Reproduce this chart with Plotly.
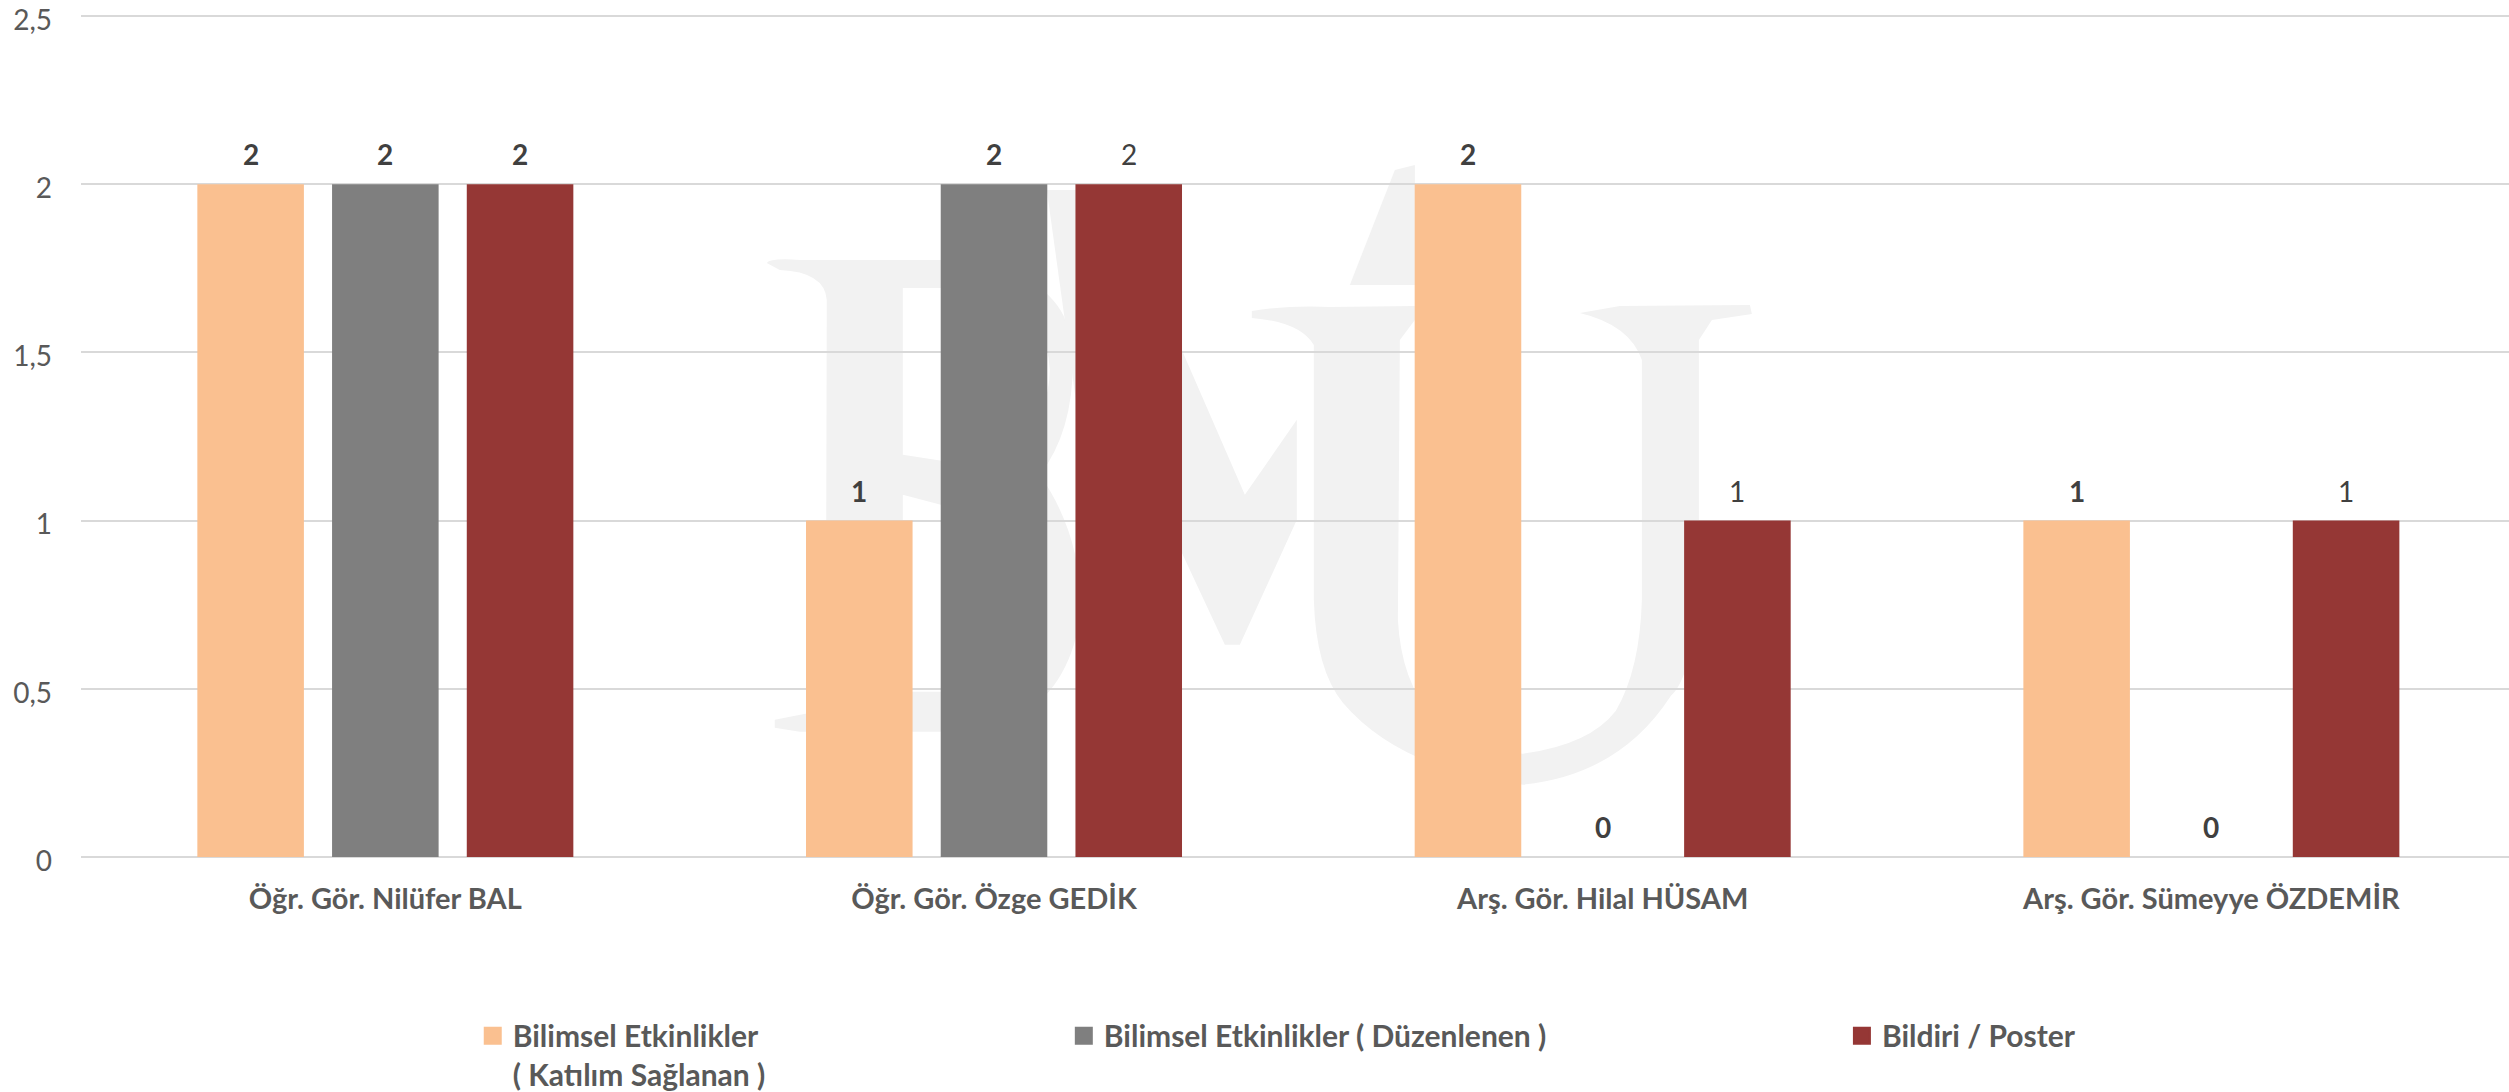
import plotly.graph_objects as go

categories = ["Öğr. Gör. Nilüfer BAL", "Öğr. Gör. Özge GEDİK", "Arş. Gör. Hilal HÜSAM", "Arş. Gör. Sümeyye ÖZDEMİR"]
s1_name = "Bilimsel Etkinlikler<br>( Katılım Sağlanan )"
s2_name = "Bilimsel Etkinlikler ( Düzenlenen )"
s3_name = "Bildiri / Poster"
s1_values = [2, 1, 2, 1]
s2_values = [2, 2, 0, 0]
s3_values = [2, 2, 1, 1]
s1_bold = [True, True, True, True]
s2_bold = [True, True, True, True]
s3_bold = [True, False, False, False]
y_ticks = [0, 0.5, 1, 1.5, 2, 2.5]
y_labels = ["0", "0,5", "1", "1,5", "2", "2,5"]
colors = ["#FAC090", "#7F7F7F", "#953735"]

W, H = 2509, 1092
L, T, B_ = 81.3, 12, 857.3
Y_TOP = 2.512  # a little headroom so that the 2,5 gridline is drawn
FONT = "Lato"
SLOT = 0.2213
TXT = "#595959"


def px(x):
    return (x - L) / (W - L)


def py(y):
    return (B_ - y) / (B_ - T)


def path(cmds):
    out = []
    for c in cmds:
        if c[0] == "Z":
            out.append("Z")
            continue
        vals = c[1:]
        pts = []
        for i in range(0, len(vals), 2):
            pts.append(f"{px(vals[i]):.5f},{py(vals[i+1]):.5f}")
        out.append(c[0] + " ".join(pts))
    return " ".join(out) + " Z"


# faint background watermark letters (pixel outline, converted to plot fractions)
wm_B = [("M", 767, 263), ("Q", 770, 258, 800, 260), ("L", 950, 260), ("Q", 1070, 270, 1073, 354), ("Q", 1075, 430, 1040, 475),
        ("Q", 1085, 540, 1080, 620), ("Q", 1060, 735, 940, 732), ("L", 800, 732), ("L", 775, 728), ("L", 775, 720), ("L", 826, 710),
        ("L", 827, 300), ("Q", 825, 272, 780, 270), ("Z",),
        # upper counter (reverse winding)
        ("M", 903, 288), ("L", 903, 455), ("L", 1000, 470), ("Q", 1050, 420, 1050, 370), ("Q", 1045, 295, 980, 288), ("Z",),
        # lower counter
        ("M", 903, 495), ("L", 903, 692), ("L", 985, 692), ("Q", 1042, 680, 1042, 620), ("Q", 1040, 550, 960, 510), ("Z",)]
wm_M = [("M", 1047, 190), ("L", 1076, 190), ("L", 1076, 280), ("L", 1182, 350), ("L", 1245, 495), ("L", 1297, 420),
        ("L", 1297, 520), ("L", 1240, 645), ("L", 1225, 645), ("L", 1182, 553), ("L", 1076, 400)]
wm_U = [("M", 1252, 311), ("Q", 1290, 305, 1330, 307), ("L", 1415, 306), ("L", 1415, 320), ("L", 1400, 340), ("L", 1398, 620),
        ("Q", 1405, 745, 1523, 754), ("Q", 1590, 745, 1616, 711), ("Q", 1640, 670, 1642, 600), ("L", 1642, 360),
        ("Q", 1630, 325, 1580, 313), ("L", 1620, 306), ("L", 1750, 305), ("L", 1752, 314), ("L", 1712, 320),
        ("L", 1699, 340), ("L", 1699, 600), ("Q", 1690, 680, 1671, 696), ("Q", 1620, 775, 1523, 785),
        ("Q", 1400, 770, 1343, 703), ("Q", 1316, 670, 1314, 600), ("L", 1314, 345), ("Q", 1300, 322, 1252, 318)]
wm_accent = [("M", 1350, 285), ("L", 1395, 170), ("L", 1415, 165), ("L", 1415, 285)]

shapes = [dict(type="path", path=path(p), xref="paper", yref="paper", layer="below",
               fillcolor="#F2F2F2", line=dict(width=0))
          for p in (wm_B, wm_M, wm_U, wm_accent)]

fig = go.Figure()
series = [(s1_name, s1_values), (s2_name, s2_values), (s3_name, s3_values)]
legend_ids = ["legend", "legend2", "legend3"]
for (name, vals), col, lg in zip(series, colors, legend_ids):
    fig.add_trace(go.Bar(x=list(range(len(categories))), y=vals, name=name, marker=dict(color=col, line=dict(width=0)),
                         showlegend=False, legendgroup=name, hoverinfo="name+y"))
for (name, vals), col, lg in zip(series, colors, legend_ids):
    fig.add_trace(go.Scatter(x=[None], y=[None], mode="markers", name=name, legend=lg, legendgroup=name,
                             marker=dict(symbol="square", color=col, size=16, line=dict(width=2, color=col))))

annotations = []
for j, ((name, vals), bold) in enumerate(zip(series, (s1_bold, s2_bold, s3_bold))):
    for i, (v, b) in enumerate(zip(vals, bold)):
        annotations.append(dict(x=i + (j - 1) * SLOT, y=v, xref="x", yref="y", yshift=11, yanchor="bottom",
                                showarrow=False, text=f"<b>{v}</b>" if b else str(v),
                                font=dict(family=FONT, size=28, color="#404040")))

leg_common = dict(orientation="v", bgcolor="rgba(0,0,0,0)", yanchor="top", xanchor="left", valign="top",
                  font=dict(family=FONT, size=30, color=TXT, weight="bold"), itemwidth=30, tracegroupgap=0)

fig.update_layout(
    width=W, height=H, autosize=False,
    margin=dict(l=L, r=0, t=T, b=H - B_, pad=0, autoexpand=False),
    paper_bgcolor="white", plot_bgcolor="white",
    font=dict(family=FONT),
    barmode="group", bargap=0.336, bargroupgap=0.209,
    shapes=shapes, annotations=annotations,
    legend=dict(x=px(473), y=py(1010), **leg_common),
    legend2=dict(x=px(1064), y=py(1010), **leg_common),
    legend3=dict(x=px(1842), y=py(1010), **leg_common),
    xaxis=dict(range=[-0.5, 3.489], tickmode="array", tickvals=list(range(len(categories))), ticktext=categories,
               tickfont=dict(family=FONT, size=29, color=TXT, weight="bold"), showgrid=False, ticks="", zeroline=False,
               showline=False, ticklen=0, ticklabelstandoff=22),
    yaxis=dict(range=[0, Y_TOP], tickmode="array", tickvals=y_ticks, ticktext=y_labels, showgrid=True,
               gridcolor="#D9D9D9", gridwidth=2, zeroline=True, zerolinecolor="#D9D9D9", zerolinewidth=2,
               tickfont=dict(family=FONT, size=28, color=TXT), ticks="", showline=False, ticklabelstandoff=28,
               ticklabeloverflow="allow", ticklabelshift=4),
)
fig.write_html("out.html", config={"displayModeBar": False},
               post_script="document.body.style.margin='0';document.documentElement.style.overflow='hidden';")
